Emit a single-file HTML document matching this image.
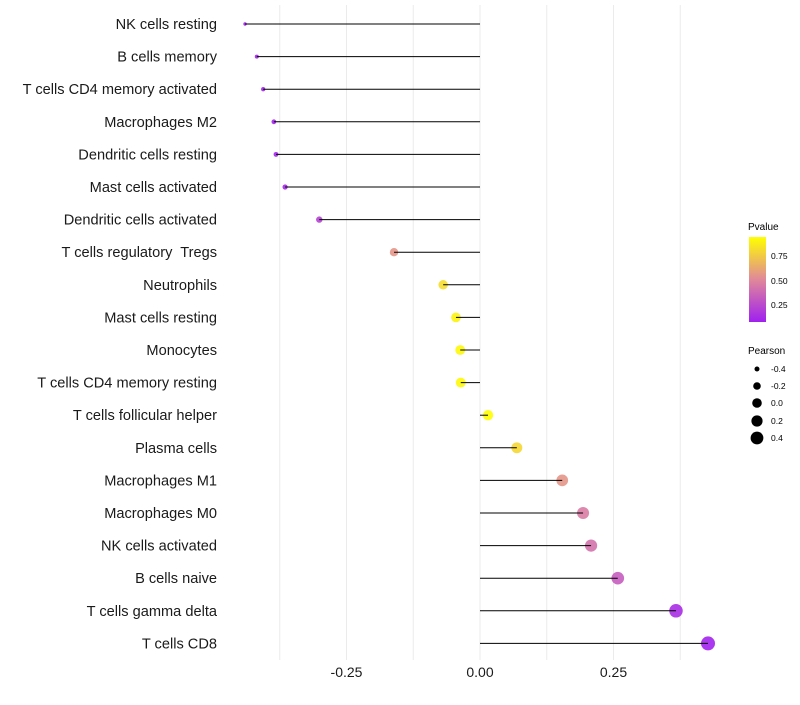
<!DOCTYPE html>
<html><head><meta charset="utf-8"><style>
body{margin:0;background:#fff;font-family:"Liberation Sans",sans-serif}
</style></head><body>
<svg id="c" width="800" height="700" xmlns="http://www.w3.org/2000/svg">
<defs><linearGradient id="pg" x1="0" y1="1" x2="0" y2="0"><stop offset="0" stop-color="#a020f0"/><stop offset="0.5" stop-color="#e0889a"/><stop offset="1" stop-color="#ffff00"/></linearGradient></defs>
<g id="grid"></g><g id="points"></g><g id="stems"></g><g id="labels"></g>
<g font-size="10">
<text x="748" y="230">Pvalue</text>
<rect x="749" y="237" width="17" height="85" fill="url(#pg)"/>
<text x="771" y="259" font-size="8.5">0.75</text>
<text x="771" y="284" font-size="8.5">0.50</text>
<text x="771" y="308" font-size="8.5">0.25</text>
</g>
<g font-size="10">
<text x="748" y="354">Pearson</text>
<circle cx="757" cy="369" r="2.5"/><text x="771" y="372" font-size="8.5">-0.4</text>
<circle cx="757" cy="386" r="3.8"/><text x="771" y="389" font-size="8.5">-0.2</text>
<circle cx="757" cy="403" r="4.8"/><text x="771" y="406" font-size="8.5">0.0</text>
<circle cx="757" cy="421" r="5.6"/><text x="771" y="424" font-size="8.5">0.2</text>
<circle cx="757" cy="438" r="6.4"/><text x="771" y="441" font-size="8.5">0.4</text>
</g>
</svg>
<script>
const categories=["NK cells resting","B cells memory","T cells CD4 memory activated","Macrophages M2","Dendritic cells resting","Mast cells activated","Dendritic cells activated","T cells regulatory  Tregs","Neutrophils","Mast cells resting","Monocytes","T cells CD4 memory resting","T cells follicular helper","Plasma cells","Macrophages M1","Macrophages M0","NK cells activated","B cells naive","T cells gamma delta","T cells CD8"];
const pearson=[-0.44,-0.418,-0.406,-0.386,-0.382,-0.365,-0.301,-0.161,-0.069,-0.045,-0.037,-0.036,0.015,0.069,0.154,0.193,0.208,0.258,0.367,0.427];
const pvalue=[0.08,0.09,0.09,0.10,0.10,0.11,0.22,0.56,0.82,0.9,0.92,0.92,0.94,0.8,0.56,0.46,0.42,0.33,0.13,0.09];
const xTicks=[-0.25,0,0.25];
const xTickLabels=["-0.25","0.00","0.25"];
const NS="http://www.w3.org/2000/svg";
const x=v=>480+v*534;
const y=i=>24+i*32.6;
const pmin=0.077,pmax=0.944;
function col(p){let t=Math.max(0,Math.min(1,(p-pmin)/(pmax-pmin)));
const a=[160,32,240],m=[224,136,154],b=[255,255,0];let c;
if(t<0.5){const s=t/0.5;c=a.map((v,k)=>v+(m[k]-v)*s);}else{const s=(t-0.5)/0.5;c=m.map((v,k)=>v+(b[k]-v)*s);}
return `rgb(${c.map(Math.round).join(",")})`;}
const rad=r=>Math.sqrt(Math.max(1,26.2+53*r));
function mk(t,at,par){const e=document.createElementNS(NS,t);for(const k in at)e.setAttribute(k,at[k]);document.getElementById(par).appendChild(e);return e;}
for(const v of [-0.375,-0.25,-0.125,0,0.125,0.25,0.375]){
const g=mk("line",{x1:x(v),x2:x(v),y1:5,y2:660,stroke:"#ebebeb","stroke-width":1},"grid");

}
xTicks.forEach((v,i)=>{const t=mk("text",{x:x(v),y:677,"text-anchor":"middle","font-size":"14",fill:"#1a1a1a"},"labels");t.textContent=xTickLabels[i];

});
categories.forEach((c,i)=>{
const p=mk("circle",{cx:x(pearson[i]),cy:y(i),r:rad(pearson[i]),fill:col(pvalue[i]),"fill-opacity":"0.9"},"points");


const l=mk("line",{x1:x(0),x2:x(pearson[i]),y1:y(i),y2:y(i),stroke:"#000","stroke-width":1},"stems");


const t=mk("text",{x:217,y:y(i)+5,"text-anchor":"end","font-size":"14.6",fill:"#1a1a1a",style:"white-space:pre"},"labels");t.textContent=c;


});
</script>
</body></html>
